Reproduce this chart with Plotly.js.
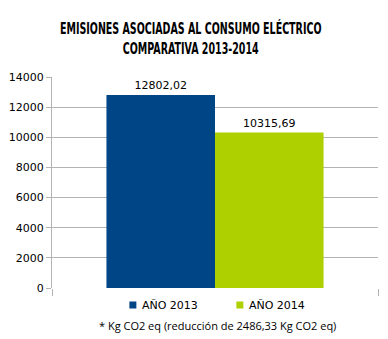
<!DOCTYPE html>
<html><head><meta charset="utf-8">
<script src="https://cdn.plot.ly/plotly-3.0.1.min.js"></script>
<style>html,body{margin:0;padding:0;background:#fff}</style>
</head><body>
<div id="chart" style="width:388px;height:339px"></div>
<script>
const categories = [''];
const seriesNames = ['AÑO 2013', 'AÑO 2014'];
const values2013 = [12802.02];
const values2014 = [10315.69];
const yTicks = [0, 2000, 4000, 6000, 8000, 10000, 12000, 14000];
const footnote = '* Kg CO2 eq (reducción de 2486,33 Kg CO2 eq)';
const titleLines = ['EMISIONES ASOCIADAS AL CONSUMO ELÉCTRICO', 'COMPARATIVA 2013-2014'];

const fmt = v => v.toFixed(2).replace('.', ',');
const colors = ['#004586', '#aecf00'];
const data = [values2013, values2014].map((vals, i) => ({
  type: 'bar', x: categories, y: vals, name: seriesNames[i],
  marker: {color: colors[i]},
  text: vals.map(fmt), textposition: 'outside', cliponaxis: false,
  textfont: {family: 'DejaVu Sans', size: 11, color: '#000'},
  hoverinfo: 'none'
}));
const layout = {
  width: 388, height: 339,
  margin: {l: 52, r: 10, t: 77, b: 51, autoexpand: false},
  paper_bgcolor: '#fff', plot_bgcolor: '#fff',
  title: {text: titleLines.join('<br>'), x: 0.49, xanchor: 'center', y: 0.9, yanchor: 'middle',
    font: {family: 'DejaVu Sans Condensed, sans-serif', size: 15.5, color: '#000', weight: 'bold'}},
  bargap: 0.334, bargroupgap: 0,
  showlegend: true,
  legend: {orientation: 'h', x: 0.153, xanchor: 'left', y: -0.012, yanchor: 'top',
    entrywidth: 62, entrywidthmode: 'pixels',
    font: {family: 'DejaVu Sans', size: 11, color: '#000'}, itemwidth: 30, tracegroupgap: 0},
  xaxis: {type: 'category', showline: false, showgrid: false, zeroline: false,
    tickson: 'boundaries', ticks: 'outside', ticklen: 7, tickcolor: '#b3b3b3', showticklabels: false},
  yaxis: {range: [0, 14000], tickvals: yTicks, tickformat: 'd', showline: true, linecolor: '#b3b3b3',
    gridcolor: '#b3b3b3', zeroline: false, ticks: 'outside', ticklen: 5, tickcolor: '#b3b3b3',
    tickfont: {family: 'DejaVu Sans', size: 11, color: '#000'}},
  annotations: [{text: footnote, xref: 'paper', yref: 'paper', x: 0.508, y: -0.18, xanchor: 'center', yanchor: 'middle',
    showarrow: false, font: {family: 'Open Sans, sans-serif', size: 11, color: '#000'}}]
};
Plotly.newPlot('chart', data, layout, {displayModeBar: false, staticPlot: true}).then(gd => {
  // narrow the title to mimic the condensed typeface of the original
  const g = gd.querySelector('.g-gtitle');
  if (g) {
    const bb = g.getBBox();
    const cx = 192;
    const s = 262 / bb.width;
    g.setAttribute('transform', `translate(${cx},0) scale(${s},1) translate(${-cx},0)`);
  }
  // smaller legend swatches sitting close to their labels, as in the original
  gd.querySelectorAll('.legendpoints path').forEach(p => p.setAttribute('d', 'M14.5,3.5H7.5V-3.5H14.5Z'));
});
</script>
</body></html>
